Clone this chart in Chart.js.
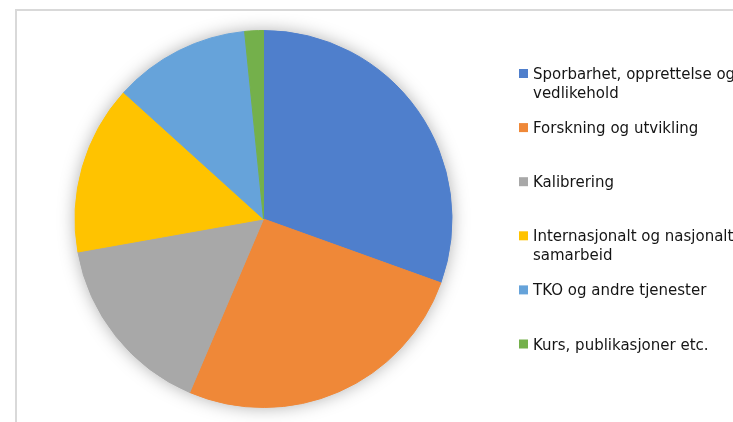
<!DOCTYPE html>
<html>
<head>
<meta charset="utf-8">
<script src="https://cdn.jsdelivr.net/npm/chart.js@4/dist/chart.umd.min.js"></script>
<style>
  html, body { margin: 0; padding: 0; background: #fff; overflow: hidden; }
  #wrap { position: relative; width: 733px; height: 422px; }
  #frame { position: absolute; left: 15px; top: 9px; right: -10px; bottom: -10px;
           border-left: 2px solid #d9d9d9; border-top: 2px solid #d9d9d9; }
  canvas { position: absolute; left: 0; top: 0; }
</style>
</head>
<body>
<div id="wrap">
  <div id="frame"></div>
  <canvas id="chart" width="733" height="422"></canvas>
</div>
<script>
// andel per aktivitet (%), lest av figuren
const labels = [
  ['Sporbarhet, opprettelse og', 'vedlikehold'],
  ['Forskning og utvikling'],
  ['Kalibrering'],
  ['Internasjonalt og nasjonalt', 'samarbeid'],
  ['TKO og andre tjenester'],
  ['Kurs, publikasjoner etc.']
]
const values = [30.5, 25.9, 15.8, 14.5, 11.7, 1.6]
const colors = ['#4F7FCC', '#EF8838', '#A8A8A8', '#FFC300', '#66A3DA', '#74B04B']

// myk skygge rundt hele sirkelen, tegnet under sektorene
const shadowPlugin = {
  id: 'pieShadow',
  beforeDatasetsDraw(chart) {
    const arc = chart.getDatasetMeta(0).data[0]
    if (!arc) return
    const ctx = chart.ctx
    ctx.save()
    ctx.shadowColor = 'rgba(0,0,0,0.35)'
    ctx.shadowBlur = 18
    ctx.fillStyle = '#fff'
    ctx.beginPath()
    ctx.arc(arc.x, arc.y, arc.outerRadius - 1, 0, Math.PI * 2)
    ctx.fill()
    ctx.restore()
  }
}

// legende som i Excel: jevnt fordelt, tekst kuttes i høyre kant
const legendPlugin = {
  id: 'sideLegend',
  afterDraw(chart) {
    const ctx = chart.ctx
    const x0 = 519, top = 73.5, step = 54.1, box = 9, lineH = 18.5
    ctx.save()
    ctx.font = '15px "DejaVu Sans", sans-serif'
    ctx.textBaseline = 'alphabetic'
    chart.data.labels.forEach((lines, i) => {
      const y = top + i * step
      ctx.fillStyle = chart.data.datasets[0].backgroundColor[i]
      ctx.fillRect(x0, y - box / 2, box, box)
      ctx.fillStyle = '#151515'
      lines.forEach((t, j) => ctx.fillText(t, x0 + 14, y + 5.5 + j * lineH))
    })
    ctx.restore()
  }
}

new Chart(document.getElementById('chart'), {
  type: 'pie',
  data: {
    labels: labels,
    datasets: [{
      data: values,
      backgroundColor: colors,
      borderColor: colors,
      borderWidth: 1
    }]
  },
  options: {
    responsive: false,
    animation: false,
    layout: { padding: { left: 74.5, right: 280.5, top: 30, bottom: 14 } },
    plugins: {
      legend: { display: false },
      tooltip: { enabled: false }
    }
  },
  plugins: [shadowPlugin, legendPlugin]
})
</script>
</body>
</html>
